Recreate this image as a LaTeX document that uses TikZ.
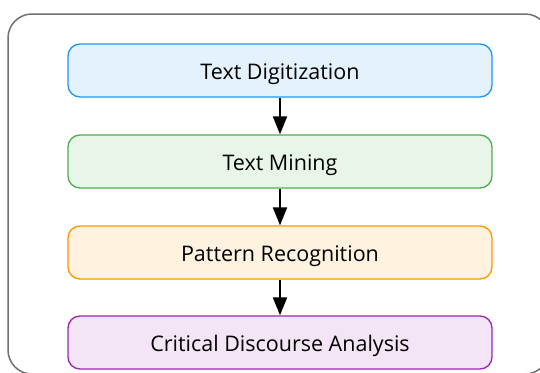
\documentclass[tikz,border=0pt]{standalone}
\usepackage{fontspec}
\setmainfont{Open Sans}
\usetikzlibrary{arrows.meta}
\definecolor{bluefill}{HTML}{E3F2FD}\definecolor{bluedraw}{HTML}{2196F3}
\definecolor{greenfill}{HTML}{E8F5E9}\definecolor{greendraw}{HTML}{4CAF50}
\definecolor{orangefill}{HTML}{FFF3E0}\definecolor{orangedraw}{HTML}{FF9800}
\definecolor{purplefill}{HTML}{F3E5F5}\definecolor{purpledraw}{HTML}{9C27B0}
\definecolor{framegray}{HTML}{707070}
\tikzset{
  stepbox/.style={draw, line width=1.3pt, rounded corners=12pt, minimum width=424pt, minimum height=53pt, font=\fontsize{21.5}{25}\selectfont, inner sep=0pt, text height=17.4pt, text depth=0pt},
  flow/.style={-{Triangle[length=18pt,width=14pt]}, line width=2pt, black}
}
\begin{document}
\begin{tikzpicture}[x=1pt,y=-1pt]
\useasboundingbox (0,0) rectangle (540,372);
\clip (0,0) rectangle (540,372);
\fill[white] (0,0) rectangle (540,372);
\draw[framegray, line width=1.5pt, rounded corners=24pt] (8,14) rectangle (549,374);
\node[stepbox, fill=bluefill, draw=bluedraw] (a) at (280,70.5) {Text Digitization};
\node[stepbox, fill=greenfill, draw=greendraw] (b) at (280,161.5) {Text Mining};
\node[stepbox, fill=orangefill, draw=orangedraw] (c) at (280,252.5) {Pattern Recognition};
\node[stepbox, fill=purplefill, draw=purpledraw] (d) at (280,342.5) {Critical Discourse Analysis};
\draw[flow] (a.south) -- (b.north);
\draw[flow] (b.south) -- (c.north);
\draw[flow] (c.south) -- (d.north);
\end{tikzpicture}
\end{document}
